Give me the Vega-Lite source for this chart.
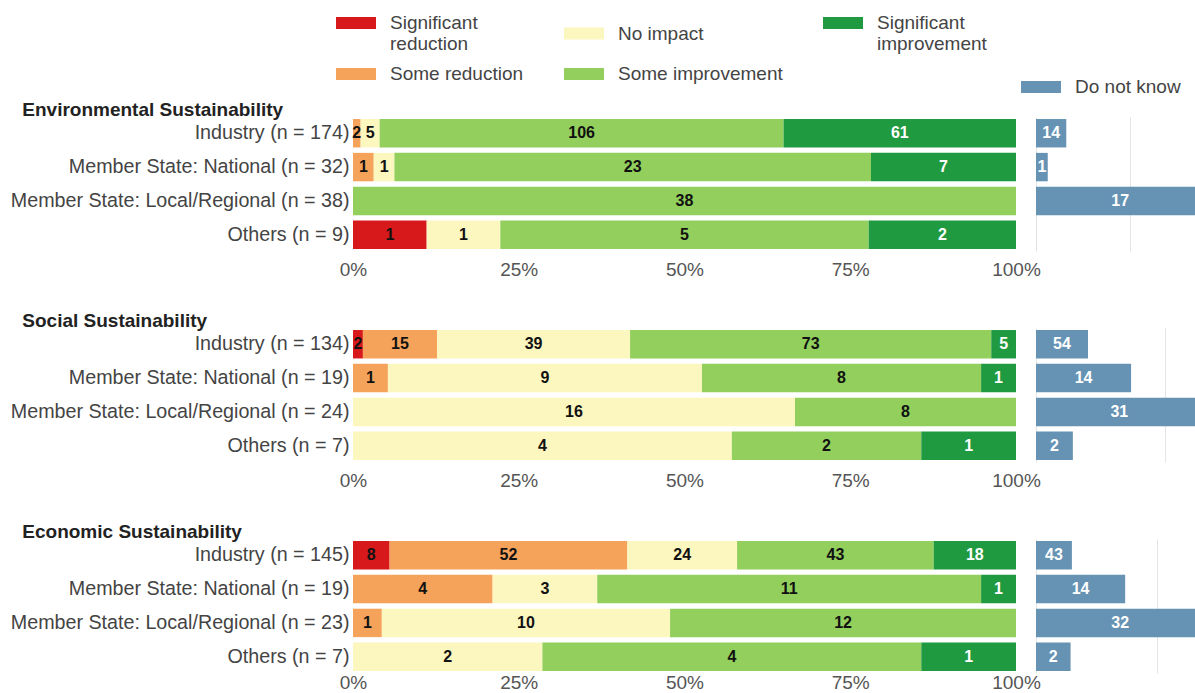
{
  "$schema": "https://vega.github.io/schema/vega-lite/v6.json",
  "padding": {"left": 10, "top": 3, "right": 0, "bottom": 0},
  "bounds": "full",
  "spacing": 33,
  "config": {
    "font": "Liberation Sans",
    "view": {"stroke": null},
    "legend": {"labelFont": "Liberation Sans"}
  },
  "datasets": {
    "main": [
      {"s": "Env", "g": "Industry (n = 174)", "c": "Some reduction", "k": 2, "v": 2},
      {"s": "Env", "g": "Industry (n = 174)", "c": "No impact", "k": 3, "v": 5},
      {"s": "Env", "g": "Industry (n = 174)", "c": "Some improvement", "k": 4, "v": 106},
      {"s": "Env", "g": "Industry (n = 174)", "c": "Significant improvement", "k": 5, "v": 61},
      {"s": "Env", "g": "Member State: National (n = 32)", "c": "Some reduction", "k": 2, "v": 1},
      {"s": "Env", "g": "Member State: National (n = 32)", "c": "No impact", "k": 3, "v": 1},
      {"s": "Env", "g": "Member State: National (n = 32)", "c": "Some improvement", "k": 4, "v": 23},
      {"s": "Env", "g": "Member State: National (n = 32)", "c": "Significant improvement", "k": 5, "v": 7},
      {"s": "Env", "g": "Member State: Local/Regional (n = 38)", "c": "Some improvement", "k": 4, "v": 38},
      {"s": "Env", "g": "Others (n = 9)", "c": "Significant reduction", "k": 1, "v": 1},
      {"s": "Env", "g": "Others (n = 9)", "c": "No impact", "k": 3, "v": 1},
      {"s": "Env", "g": "Others (n = 9)", "c": "Some improvement", "k": 4, "v": 5},
      {"s": "Env", "g": "Others (n = 9)", "c": "Significant improvement", "k": 5, "v": 2},
      {"s": "Soc", "g": "Industry (n = 134)", "c": "Significant reduction", "k": 1, "v": 2},
      {"s": "Soc", "g": "Industry (n = 134)", "c": "Some reduction", "k": 2, "v": 15},
      {"s": "Soc", "g": "Industry (n = 134)", "c": "No impact", "k": 3, "v": 39},
      {"s": "Soc", "g": "Industry (n = 134)", "c": "Some improvement", "k": 4, "v": 73},
      {"s": "Soc", "g": "Industry (n = 134)", "c": "Significant improvement", "k": 5, "v": 5},
      {"s": "Soc", "g": "Member State: National (n = 19)", "c": "Some reduction", "k": 2, "v": 1},
      {"s": "Soc", "g": "Member State: National (n = 19)", "c": "No impact", "k": 3, "v": 9},
      {"s": "Soc", "g": "Member State: National (n = 19)", "c": "Some improvement", "k": 4, "v": 8},
      {"s": "Soc", "g": "Member State: National (n = 19)", "c": "Significant improvement", "k": 5, "v": 1},
      {"s": "Soc", "g": "Member State: Local/Regional (n = 24)", "c": "No impact", "k": 3, "v": 16},
      {"s": "Soc", "g": "Member State: Local/Regional (n = 24)", "c": "Some improvement", "k": 4, "v": 8},
      {"s": "Soc", "g": "Others (n = 7)", "c": "No impact", "k": 3, "v": 4},
      {"s": "Soc", "g": "Others (n = 7)", "c": "Some improvement", "k": 4, "v": 2},
      {"s": "Soc", "g": "Others (n = 7)", "c": "Significant improvement", "k": 5, "v": 1},
      {"s": "Eco", "g": "Industry (n = 145)", "c": "Significant reduction", "k": 1, "v": 8},
      {"s": "Eco", "g": "Industry (n = 145)", "c": "Some reduction", "k": 2, "v": 52},
      {"s": "Eco", "g": "Industry (n = 145)", "c": "No impact", "k": 3, "v": 24},
      {"s": "Eco", "g": "Industry (n = 145)", "c": "Some improvement", "k": 4, "v": 43},
      {"s": "Eco", "g": "Industry (n = 145)", "c": "Significant improvement", "k": 5, "v": 18},
      {"s": "Eco", "g": "Member State: National (n = 19)", "c": "Some reduction", "k": 2, "v": 4},
      {"s": "Eco", "g": "Member State: National (n = 19)", "c": "No impact", "k": 3, "v": 3},
      {"s": "Eco", "g": "Member State: National (n = 19)", "c": "Some improvement", "k": 4, "v": 11},
      {"s": "Eco", "g": "Member State: National (n = 19)", "c": "Significant improvement", "k": 5, "v": 1},
      {"s": "Eco", "g": "Member State: Local/Regional (n = 23)", "c": "Some reduction", "k": 2, "v": 1},
      {"s": "Eco", "g": "Member State: Local/Regional (n = 23)", "c": "No impact", "k": 3, "v": 10},
      {"s": "Eco", "g": "Member State: Local/Regional (n = 23)", "c": "Some improvement", "k": 4, "v": 12},
      {"s": "Eco", "g": "Others (n = 7)", "c": "No impact", "k": 3, "v": 2},
      {"s": "Eco", "g": "Others (n = 7)", "c": "Some improvement", "k": 4, "v": 4},
      {"s": "Eco", "g": "Others (n = 7)", "c": "Significant improvement", "k": 5, "v": 1}
    ],
    "dk": [
      {"s": "Env", "g": "Industry (n = 174)", "dk": 14, "share": 0.0805},
      {"s": "Env", "g": "Member State: National (n = 32)", "dk": 1, "share": 0.03125},
      {"s": "Env", "g": "Member State: Local/Regional (n = 38)", "dk": 17, "share": 0.4474},
      {"s": "Soc", "g": "Industry (n = 134)", "dk": 54, "share": 0.403},
      {"s": "Soc", "g": "Member State: National (n = 19)", "dk": 14, "share": 0.7368},
      {"s": "Soc", "g": "Member State: Local/Regional (n = 24)", "dk": 31, "share": 1.2917},
      {"s": "Soc", "g": "Others (n = 7)", "dk": 2, "share": 0.2857},
      {"s": "Eco", "g": "Industry (n = 145)", "dk": 43, "share": 0.2966},
      {"s": "Eco", "g": "Member State: National (n = 19)", "dk": 14, "share": 0.7368},
      {"s": "Eco", "g": "Member State: Local/Regional (n = 23)", "dk": 32, "share": 1.3913},
      {"s": "Eco", "g": "Others (n = 7)", "dk": 2, "share": 0.2857}
    ]
  },
  "vconcat": [
    {
      "bounds": "flush",
      "spacing": 20,
      "hconcat": [
        {
          "width": 663, "height": 134,
          "title": {"text": "Environmental Sustainability", "anchor": "start", "frame": "bounds", "dx": 12, "offset": -3, "fontSize": 19, "fontWeight": "bold", "color": "#222"},
          "data": {"name": "main"},
          "transform": [{"filter": "datum.s === 'Env'"}],
          "encoding": {
            "y": {"field": "g", "type": "nominal", "scale": {"domain": ["Industry (n = 174)", "Member State: National (n = 32)", "Member State: Local/Regional (n = 38)", "Others (n = 9)"], "paddingInner": 0.16, "paddingOuter": 0.06},
              "axis": {"title": null, "labelFontSize": 19.7, "labelColor": "#444", "ticks": false, "domain": false, "labelPadding": 4, "labelLimit": 500}}
          },
          "layer": [
            {"mark": {"type": "bar"},
             "encoding": {
               "x": {"field": "v", "type": "quantitative", "stack": "normalize", "scale": {"domain": [0, 1]},
                 "axis": {"title": null, "format": "%", "values": [0, 0.25, 0.5, 0.75, 1], "labelFontSize": 19, "labelColor": "#555", "ticks": false, "domain": false, "grid": false, "labelPadding": 9, "labelFlush": false}},
               "order": {"field": "k", "type": "quantitative"},
               "color": {"field": "c", "type": "nominal",
                 "scale": {"domain": ["Significant reduction", "Some reduction", "No impact", "Some improvement", "Significant improvement"], "range": ["#d7191c", "#f5a35a", "#fcf6bf", "#92cf5c", "#1f9a40"]},
                 "legend": {"title": null, "orient": "none", "legendX": -17, "legendY": -114, "columns": 3, "symbolType": "M-1,-0.3H1V0.3H-1Z", "symbolSize": 1600, "symbolStrokeWidth": 0, "symbolOpacity": 1, "labelFontSize": 19, "labelColor": "#444", "labelOffset": 14, "columnPadding": 40, "rowPadding": 0, "labelLimit": 400,
                   "labelExpr": "datum.label === 'Significant reduction' ? ['Significant', 'reduction'] : datum.label === 'Significant improvement' ? ['Significant', 'improvement'] : datum.label"}}
             }},
            {"mark": {"type": "text", "fontWeight": "bold", "fontSize": 16},
             "encoding": {
               "x": {"field": "v", "type": "quantitative", "stack": "normalize", "bandPosition": 0.5},
               "order": {"field": "k", "type": "quantitative"},
               "detail": {"field": "c"},
               "text": {"field": "v", "type": "quantitative"},
               "color": {"condition": {"test": "datum.c === 'Significant improvement'", "value": "white"}, "value": "#111"}
             }}
          ]
        },
        {
          "width": 160, "height": 134,
          "data": {"name": "dk"},
          "transform": [{"filter": "datum.s === 'Env'"}],
          "encoding": {
            "y": {"field": "g", "type": "nominal", "scale": {"domain": ["Industry (n = 174)", "Member State: National (n = 32)", "Member State: Local/Regional (n = 38)", "Others (n = 9)"], "paddingInner": 0.16, "paddingOuter": 0.06}, "axis": null}
          },
          "layer": [
            {"mark": {"type": "bar", "clip": true},
             "encoding": {
               "x": {"field": "share", "type": "quantitative", "scale": {"domain": [0, 0.4255], "nice": false},
                 "axis": {"title": null, "labels": false, "ticks": false, "domain": false, "grid": true, "gridColor": "#e4e4e4", "values": [0, 0.25]}},
               "fill": {"datum": "Do not know", "type": "nominal", "scale": {"range": ["#6693b3"]},
                 "legend": {"title": null, "orient": "none", "legendX": 668, "legendY": -50, "symbolType": "M-1,-0.3H1V0.3H-1Z", "symbolSize": 1600, "symbolStrokeWidth": 0, "symbolOpacity": 1, "labelFontSize": 19, "labelColor": "#444", "labelOffset": 14}}
             }},
            {"mark": {"type": "text", "fontWeight": "bold", "fontSize": 16, "color": "white"},
             "encoding": {
               "x": {"field": "share", "type": "quantitative", "stack": "zero", "bandPosition": 0.5},
               "text": {"field": "dk", "type": "quantitative"}
             }}
          ]
        }
      ]
    },
    {
      "bounds": "flush",
      "spacing": 20,
      "hconcat": [
        {
          "width": 663, "height": 134,
          "title": {"text": "Social Sustainability", "anchor": "start", "frame": "bounds", "dx": 12, "offset": -3, "fontSize": 19, "fontWeight": "bold", "color": "#222"},
          "data": {"name": "main"},
          "transform": [{"filter": "datum.s === 'Soc'"}],
          "encoding": {
            "y": {"field": "g", "type": "nominal", "scale": {"domain": ["Industry (n = 134)", "Member State: National (n = 19)", "Member State: Local/Regional (n = 24)", "Others (n = 7)"], "paddingInner": 0.16, "paddingOuter": 0.06},
              "axis": {"title": null, "labelFontSize": 19.7, "labelColor": "#444", "ticks": false, "domain": false, "labelPadding": 4, "labelLimit": 500}}
          },
          "layer": [
            {"mark": {"type": "bar"},
             "encoding": {
               "x": {"field": "v", "type": "quantitative", "stack": "normalize", "scale": {"domain": [0, 1]},
                 "axis": {"title": null, "format": "%", "values": [0, 0.25, 0.5, 0.75, 1], "labelFontSize": 19, "labelColor": "#555", "ticks": false, "domain": false, "grid": false, "labelPadding": 9, "labelFlush": false}},
               "order": {"field": "k", "type": "quantitative"},
               "color": {"field": "c", "type": "nominal",
                 "scale": {"domain": ["Significant reduction", "Some reduction", "No impact", "Some improvement", "Significant improvement"], "range": ["#d7191c", "#f5a35a", "#fcf6bf", "#92cf5c", "#1f9a40"]},
                 "legend": {"title": null, "orient": "none", "legendX": -17, "legendY": -114, "columns": 3, "symbolType": "M-1,-0.3H1V0.3H-1Z", "symbolSize": 1600, "symbolStrokeWidth": 0, "symbolOpacity": 1, "labelFontSize": 19, "labelColor": "#444", "labelOffset": 14, "columnPadding": 40, "rowPadding": 0, "labelLimit": 400,
                   "labelExpr": "datum.label === 'Significant reduction' ? ['Significant', 'reduction'] : datum.label === 'Significant improvement' ? ['Significant', 'improvement'] : datum.label"}}
             }},
            {"mark": {"type": "text", "fontWeight": "bold", "fontSize": 16},
             "encoding": {
               "x": {"field": "v", "type": "quantitative", "stack": "normalize", "bandPosition": 0.5},
               "order": {"field": "k", "type": "quantitative"},
               "detail": {"field": "c"},
               "text": {"field": "v", "type": "quantitative"},
               "color": {"condition": {"test": "datum.c === 'Significant improvement'", "value": "white"}, "value": "#111"}
             }}
          ]
        },
        {
          "width": 160, "height": 134,
          "data": {"name": "dk"},
          "transform": [{"filter": "datum.s === 'Soc'"}],
          "encoding": {
            "y": {"field": "g", "type": "nominal", "scale": {"domain": ["Industry (n = 134)", "Member State: National (n = 19)", "Member State: Local/Regional (n = 24)", "Others (n = 7)"], "paddingInner": 0.16, "paddingOuter": 0.06}, "axis": null}
          },
          "layer": [
            {"mark": {"type": "bar", "clip": true},
             "encoding": {
               "x": {"field": "share", "type": "quantitative", "scale": {"domain": [0, 1.24], "nice": false},
                 "axis": {"title": null, "labels": false, "ticks": false, "domain": false, "grid": true, "gridColor": "#e4e4e4", "values": [0, 1]}},
               "fill": {"datum": "Do not know", "type": "nominal", "scale": {"range": ["#6693b3"]},
                 "legend": {"title": null, "orient": "none", "legendX": 668, "legendY": -50, "symbolType": "M-1,-0.3H1V0.3H-1Z", "symbolSize": 1600, "symbolStrokeWidth": 0, "symbolOpacity": 1, "labelFontSize": 19, "labelColor": "#444", "labelOffset": 14}}
             }},
            {"mark": {"type": "text", "fontWeight": "bold", "fontSize": 16, "color": "white"},
             "encoding": {
               "x": {"field": "share", "type": "quantitative", "stack": "zero", "bandPosition": 0.5},
               "text": {"field": "dk", "type": "quantitative"}
             }}
          ]
        }
      ]
    },
    {
      "bounds": "flush",
      "spacing": 20,
      "hconcat": [
        {
          "width": 663, "height": 134,
          "title": {"text": "Economic Sustainability", "anchor": "start", "frame": "bounds", "dx": 12, "offset": -3, "fontSize": 19, "fontWeight": "bold", "color": "#222"},
          "data": {"name": "main"},
          "transform": [{"filter": "datum.s === 'Eco'"}],
          "encoding": {
            "y": {"field": "g", "type": "nominal", "scale": {"domain": ["Industry (n = 145)", "Member State: National (n = 19)", "Member State: Local/Regional (n = 23)", "Others (n = 7)"], "paddingInner": 0.16, "paddingOuter": 0.06},
              "axis": {"title": null, "labelFontSize": 19.7, "labelColor": "#444", "ticks": false, "domain": false, "labelPadding": 4, "labelLimit": 500}}
          },
          "layer": [
            {"mark": {"type": "bar"},
             "encoding": {
               "x": {"field": "v", "type": "quantitative", "stack": "normalize", "scale": {"domain": [0, 1]},
                 "axis": {"title": null, "format": "%", "values": [0, 0.25, 0.5, 0.75, 1], "labelFontSize": 19, "labelColor": "#555", "ticks": false, "domain": false, "grid": false, "labelPadding": 0, "labelFlush": false}},
               "order": {"field": "k", "type": "quantitative"},
               "color": {"field": "c", "type": "nominal",
                 "scale": {"domain": ["Significant reduction", "Some reduction", "No impact", "Some improvement", "Significant improvement"], "range": ["#d7191c", "#f5a35a", "#fcf6bf", "#92cf5c", "#1f9a40"]},
                 "legend": {"title": null, "orient": "none", "legendX": -17, "legendY": -114, "columns": 3, "symbolType": "M-1,-0.3H1V0.3H-1Z", "symbolSize": 1600, "symbolStrokeWidth": 0, "symbolOpacity": 1, "labelFontSize": 19, "labelColor": "#444", "labelOffset": 14, "columnPadding": 40, "rowPadding": 0, "labelLimit": 400,
                   "labelExpr": "datum.label === 'Significant reduction' ? ['Significant', 'reduction'] : datum.label === 'Significant improvement' ? ['Significant', 'improvement'] : datum.label"}}
             }},
            {"mark": {"type": "text", "fontWeight": "bold", "fontSize": 16},
             "encoding": {
               "x": {"field": "v", "type": "quantitative", "stack": "normalize", "bandPosition": 0.5},
               "order": {"field": "k", "type": "quantitative"},
               "detail": {"field": "c"},
               "text": {"field": "v", "type": "quantitative"},
               "color": {"condition": {"test": "datum.c === 'Significant improvement'", "value": "white"}, "value": "#111"}
             }}
          ]
        },
        {
          "width": 160, "height": 134,
          "data": {"name": "dk"},
          "transform": [{"filter": "datum.s === 'Eco'"}],
          "encoding": {
            "y": {"field": "g", "type": "nominal", "scale": {"domain": ["Industry (n = 145)", "Member State: National (n = 19)", "Member State: Local/Regional (n = 23)", "Others (n = 7)"], "paddingInner": 0.16, "paddingOuter": 0.06}, "axis": null}
          },
          "layer": [
            {"mark": {"type": "bar", "clip": true},
             "encoding": {
               "x": {"field": "share", "type": "quantitative", "scale": {"domain": [0, 1.322], "nice": false},
                 "axis": {"title": null, "labels": false, "ticks": false, "domain": false, "grid": true, "gridColor": "#e4e4e4", "values": [0, 1]}},
               "fill": {"datum": "Do not know", "type": "nominal", "scale": {"range": ["#6693b3"]},
                 "legend": {"title": null, "orient": "none", "legendX": 668, "legendY": -50, "symbolType": "M-1,-0.3H1V0.3H-1Z", "symbolSize": 1600, "symbolStrokeWidth": 0, "symbolOpacity": 1, "labelFontSize": 19, "labelColor": "#444", "labelOffset": 14}}
             }},
            {"mark": {"type": "text", "fontWeight": "bold", "fontSize": 16, "color": "white"},
             "encoding": {
               "x": {"field": "share", "type": "quantitative", "stack": "zero", "bandPosition": 0.5},
               "text": {"field": "dk", "type": "quantitative"}
             }}
          ]
        }
      ]
    }
  ]
}
